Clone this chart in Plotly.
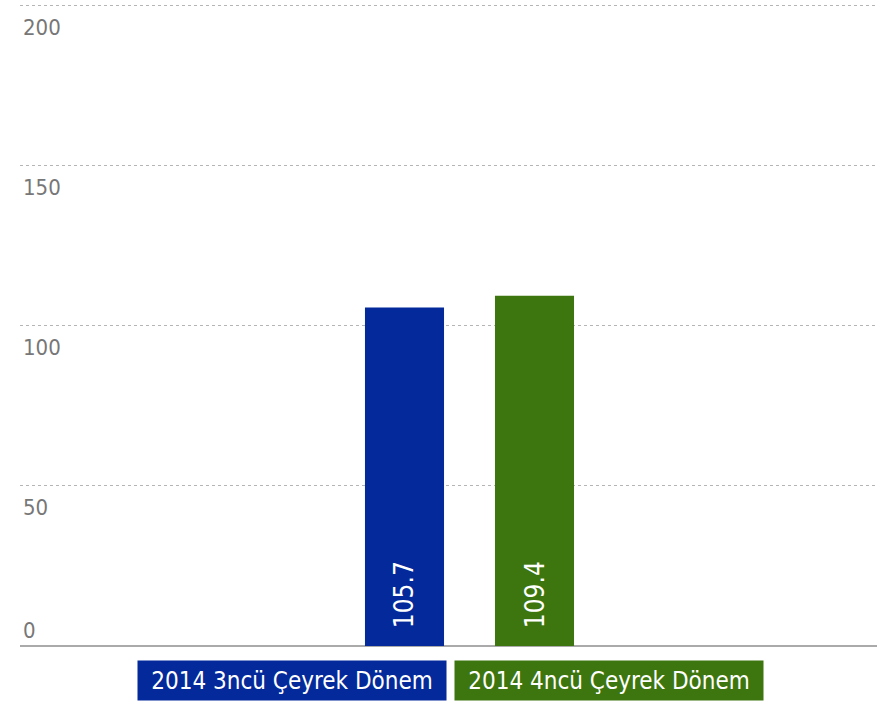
import plotly.graph_objects as go

categories = [""]
series_names = ["2014 3ncü Çeyrek Dönem", "2014 4ncü Çeyrek Dönem"]
series_values = [[105.7], [109.4]]
colors = ["#03299b", "#3d760e"]
y_ticks = [50, 100, 150, 200]
y_zero_tick = [0]
y_range = [0, 200.5]

FONT = "Liberation Sans Narrow, DejaVu Sans Condensed, sans-serif"

fig = go.Figure()
for name, vals, col in zip(series_names, series_values, colors):
    fig.add_trace(go.Bar(
        x=categories, y=vals, name=name, marker=dict(color=col, line=dict(width=0)),
        text=vals, texttemplate="  %{y}", textposition="inside", insidetextanchor="start",
        textangle=-90, textfont=dict(color="white", size=26, family=FONT),
        showlegend=False, hoverinfo="skip",
    ))

# invisible helper trace so the secondary axis (zero tick label) is drawn
fig.add_trace(go.Scatter(x=categories, y=y_zero_tick, yaxis="y2", mode="markers",
                         marker=dict(opacity=0), showlegend=False, hoverinfo="skip"))

ann = []
xs = [0.3174, 0.6867]
for name, col, x in zip(series_names, colors, xs):
    ann.append(dict(text=name, x=x, y=-0.053, xref="paper", yref="paper",
                    xanchor="center", yanchor="middle", showarrow=False,
                    bgcolor=col, width=300, height=31, borderpad=4,
                    font=dict(color="white", size=24, family=FONT)))

fig.update_layout(
    width=877, height=701,
    margin=dict(l=20, r=0, t=4, b=55),
    plot_bgcolor="white", paper_bgcolor="white",
    barmode="group", bargap=0.6966, bargroupgap=0.392,
    annotations=ann,
    font=dict(family=FONT),
    yaxis2=dict(overlaying="y", side="left", range=y_range, tickvals=y_zero_tick,
                showgrid=False, zeroline=False, showline=False, ticks="",
                ticklabelposition="inside top",
                tickfont=dict(size=22, color="#777777", family=FONT)),
)
fig.update_xaxes(range=[-0.5245, 0.4755], showticklabels=False, showgrid=False,
                 zeroline=False, showline=False)
fig.layout.yaxis.update(range=y_range, tickvals=y_ticks, showgrid=True, gridcolor="#b5b5b5",
                        griddash="dot", gridwidth=1, zeroline=True, zerolinecolor="#aaaaaa",
                        zerolinewidth=2, ticklabelposition="inside bottom",
                        ticklabelshift=6,
                        tickfont=dict(size=22, color="#777777", family=FONT), ticks="",
                        showline=False)

fig.write_html("out.html", config={"displayModeBar": False},
               post_script="document.body.style.margin='0';")
